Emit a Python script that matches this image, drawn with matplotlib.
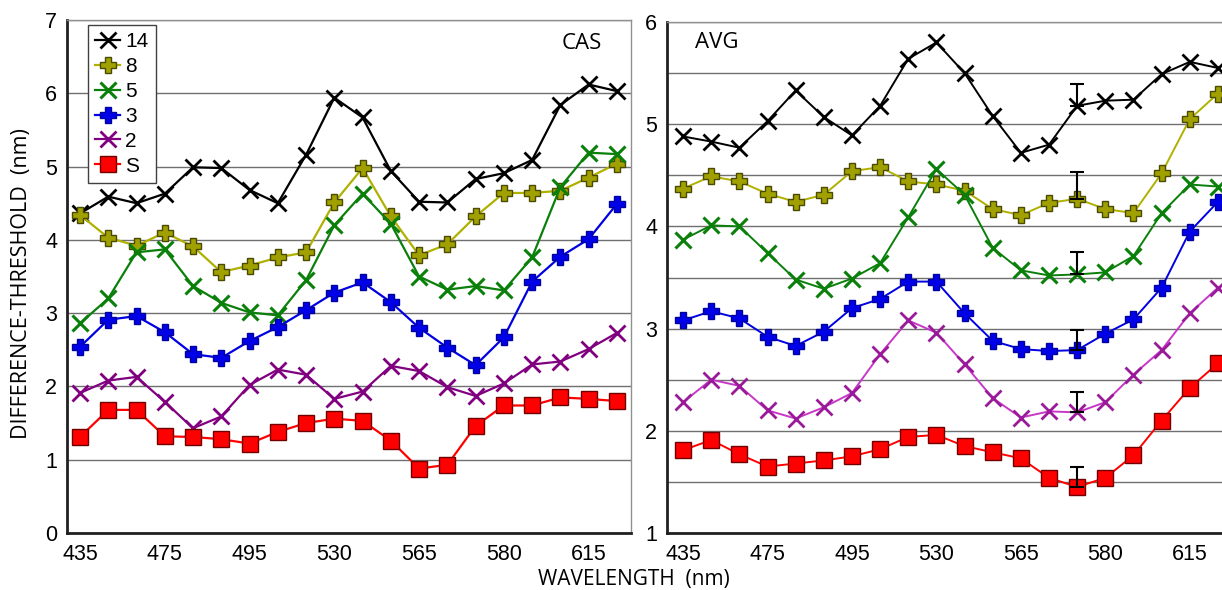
import numpy as np
import matplotlib
matplotlib.use("Agg")
import matplotlib.pyplot as plt

# 20 wavelengths, labels shown every third one
tick_pos = [0, 3, 6, 9, 12, 15, 18]
tick_labels = ["435", "475", "495", "530", "565", "580", "615"]
labels = ["14", "8", "5", "3", "2", "S"]

cas_14 = [4.36, 4.59, 4.50, 4.63, 4.99, 4.98, 4.68, 4.50, 5.16, 5.94,
          5.67, 4.94, 4.52, 4.51, 4.83, 4.91, 5.09, 5.84, 6.12, 6.03]
cas_8 = [4.34, 4.03, 3.92, 4.10, 3.91, 3.56, 3.65, 3.76, 3.83, 4.51,
         4.98, 4.32, 3.79, 3.94, 4.32, 4.64, 4.64, 4.67, 4.85, 5.04]
cas_5 = [2.86, 3.20, 3.83, 3.87, 3.37, 3.14, 3.01, 2.97, 3.45, 4.20,
         4.63, 4.22, 3.50, 3.32, 3.37, 3.31, 3.76, 4.72, 5.19, 5.17]
cas_3 = [2.54, 2.91, 2.96, 2.74, 2.44, 2.39, 2.62, 2.81, 3.04, 3.28,
         3.42, 3.15, 2.80, 2.53, 2.29, 2.67, 3.43, 3.77, 4.01, 4.49]
cas_2 = [1.91, 2.08, 2.13, 1.79, 1.43, 1.59, 2.02, 2.23, 2.16, 1.83,
         1.93, 2.28, 2.21, 1.99, 1.87, 2.04, 2.30, 2.34, 2.51, 2.73]
cas_s = [1.31, 1.68, 1.68, 1.32, 1.31, 1.28, 1.22, 1.38, 1.50, 1.56,
         1.53, 1.26, 0.88, 0.93, 1.46, 1.74, 1.74, 1.85, 1.83, 1.80]

avg_14 = [4.88, 4.83, 4.77, 5.03, 5.33, 5.07, 4.89, 5.18, 5.64, 5.80,
          5.50, 5.08, 4.72, 4.80, 5.18, 5.23, 5.24, 5.49, 5.61, 5.55]
avg_8 = [4.37, 4.49, 4.44, 4.32, 4.24, 4.31, 4.54, 4.58, 4.44, 4.41,
         4.35, 4.17, 4.11, 4.23, 4.27, 4.17, 4.13, 4.52, 5.05, 5.30]
avg_5 = [3.87, 4.01, 4.00, 3.74, 3.48, 3.39, 3.49, 3.64, 4.09, 4.56,
         4.31, 3.79, 3.57, 3.52, 3.53, 3.55, 3.71, 4.13, 4.41, 4.39]
avg_3 = [3.08, 3.17, 3.10, 2.92, 2.83, 2.97, 3.20, 3.29, 3.46, 3.46,
         3.15, 2.88, 2.80, 2.78, 2.79, 2.95, 3.09, 3.40, 3.95, 4.24]
avg_2 = [2.28, 2.50, 2.44, 2.20, 2.12, 2.23, 2.37, 2.75, 3.08, 2.96,
         2.65, 2.32, 2.13, 2.19, 2.18, 2.28, 2.55, 2.79, 3.15, 3.40]
avg_s = [1.81, 1.91, 1.77, 1.65, 1.68, 1.71, 1.75, 1.82, 1.94, 1.96,
         1.85, 1.79, 1.73, 1.54, 1.45, 1.54, 1.76, 2.10, 2.42, 2.66]

# one upward error bar per series on the AVG panel
err_idx = 14
avg_err = [0.21, 0.26, 0.22, 0.20, 0.20, 0.20]

styles = [
    dict(color="black", marker="x", ms=11, mew=2),
    dict(color="#b0b000", marker="P", ms=12, mfc="#a0a000", mec="#4a4a00", mew=1),
    dict(color="#0a800a", marker="x", ms=11, mew=2.2),
    dict(color="#0000e0", marker="P", ms=12, mfc="#0000e8", mec="#0000a0", mew=1),
    dict(color="#800080", marker="x", ms=11, mew=2),
    dict(color="#ff0000", marker="s", ms=11, mfc="#ff0000", mec="#700000", mew=1),
]

tick_font = "Liberation Sans"
txt_font = "Open Sans"

fig = plt.figure(figsize=(12.22, 5.9), dpi=100)
ax1 = fig.add_axes([67 / 1222, 57 / 590, 564 / 1222, 513 / 590])
ax2 = fig.add_axes([667 / 1222, 57 / 590, 565 / 1222, 511 / 590])

x = np.arange(20)

def style_axes(ax, ylim, yticks, grid):
    ax.set_ylim(*ylim)
    ax.set_yticks(yticks)
    ax.set_yticks(grid, minor=True)
    ax.set_xticks(tick_pos)
    ax.set_xticklabels(tick_labels)
    ax.tick_params(which="both", length=0, labelsize=15.5)
    ax.tick_params(axis="x", pad=8)
    ax.tick_params(axis="y", pad=7)
    for lab in ax.get_xticklabels() + ax.get_yticklabels():
        lab.set_fontfamily(tick_font)
    ax.grid(True, axis="y", which="both", color="#707070", lw=1)
    ax.set_axisbelow(True)
    for s in ["top", "right"]:
        ax.spines[s].set_color("#909090")
        ax.spines[s].set_linewidth(1)
    for s in ["left", "bottom"]:
        ax.spines[s].set_color("#202020")
        ax.spines[s].set_linewidth(2)

cas = [cas_14, cas_8, cas_5, cas_3, cas_2, cas_s]
for vals, st, lab in zip(cas, styles, labels):
    ax1.plot(x, vals, lw=1.6, label=lab, **st)
ax1.set_xlim(-0.46, 19.5)
style_axes(ax1, (0, 7), range(0, 8), np.arange(1, 7))
ax1.text(0.949, 0.955, "CAS", transform=ax1.transAxes, ha="right", va="center",
         fontsize=16, family=txt_font)
ax1.legend(loc="upper left", bbox_to_anchor=(0.037, 0.99), borderaxespad=0,
           prop={"family": tick_font, "size": 15}, handlelength=1.2,
           handletextpad=0.25, labelspacing=0.28, borderpad=0.35,
           fancybox=False, framealpha=1, edgecolor="#404040")

avg = [avg_14, avg_8, avg_5, avg_3, avg_2, avg_s]
avg_styles = [dict(s) for s in styles]
avg_styles[4]["color"] = "#c838c8"
avg_styles[4]["mec"] = "#9a1a9a"
for vals, st, e in zip(avg, avg_styles, avg_err):
    ax2.plot(x, vals, lw=1.4, **st)
    ax2.errorbar([err_idx], [vals[err_idx]], yerr=[[0], [e]], fmt="none",
                 ecolor="black", elinewidth=1.5, capsize=5, capthick=1.5, zorder=5)
ax2.set_xlim(-0.57, 19.5)
style_axes(ax2, (1, 6), range(1, 7), np.arange(1.5, 6, 0.5))
ax2.text(0.05, 0.959, "AVG", transform=ax2.transAxes, ha="left", va="center",
         fontsize=16, family=txt_font)

fig.text(22 / 1222, 1 - 284 / 590, "DIFFERENCE-THRESHOLD  (nm)", rotation=90,
         ha="center", va="center", fontsize=15.5, family=txt_font)
fig.text(634 / 1222, 1 - 580 / 590, "WAVELENGTH  (nm)", ha="center", va="center",
         fontsize=15, family=txt_font)

fig.savefig("out.png", dpi=100)
